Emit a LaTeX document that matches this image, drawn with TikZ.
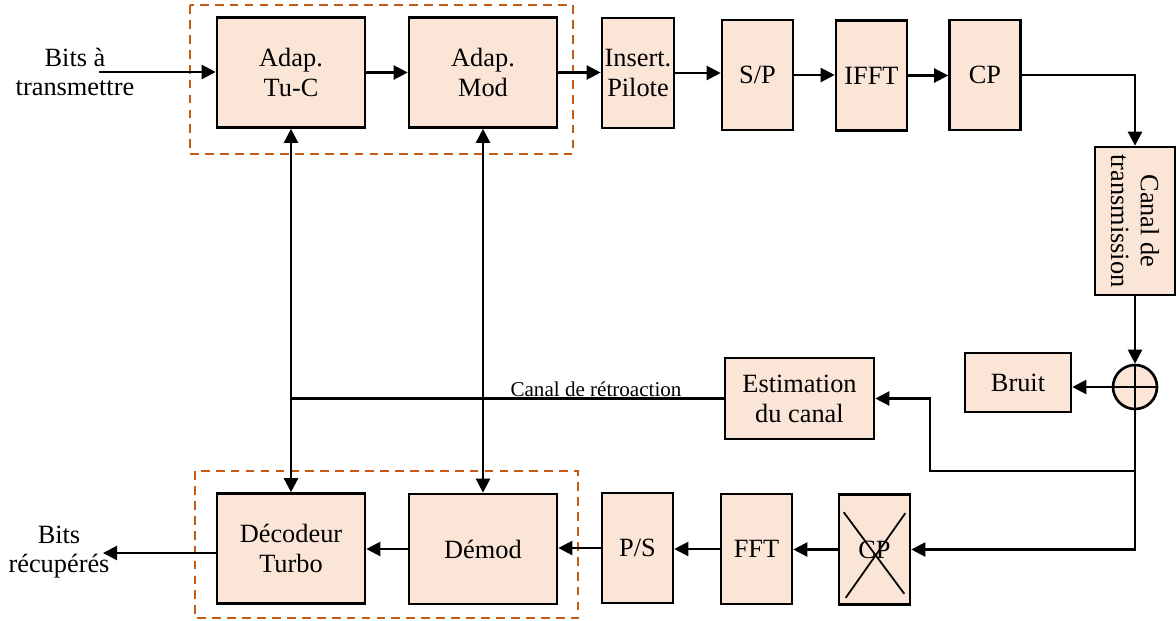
\documentclass[tikz,border=0pt]{standalone}
\usepackage{fontspec}
\setmainfont{Liberation Serif}
\usetikzlibrary{arrows.meta}
\definecolor{peche}{HTML}{FBE5D6}
\definecolor{cadre}{HTML}{C55A11}
\tikzset{
every picture/.style={line width=1.3pt, >={Triangle[length=8pt,width=8pt]}},
bloc/.style={draw, line width=1.5pt, fill=peche, align=center, inner sep=1pt,
  font=\fontsize{15}{17}\selectfont},
large/.style={minimum width=2.96cm, minimum height=2.2cm},
etroit/.style={minimum width=1.42cm, minimum height=2.2cm},
groupe/.style={draw=cadre, dash pattern=on 5pt off 3.5pt, line width=1.2pt},
legende/.style={align=center, font=\fontsize{15}{17}\selectfont}
}

\begin{document}
\begin{tikzpicture}[x=0.02cm, y=-0.02cm]
    \useasboundingbox (0,0) rectangle (1176,620);
    \draw[groupe] (190,5) rectangle (573,154);
    \draw[groupe] (195,471) rectangle (578,618);

    % emetteur
    \node[bloc, large] (tuc) at (291,72.5) {Adap.\\Tu-C};
    \node[bloc, large] (mod) at (483,72.5) {Adap.\\Mod};
    \node[bloc, etroit, minimum width=1.44cm] (ins) at (638,73) {Insert.\\Pilote};
    \node[bloc, etroit] (sp) at (757.5,75) {S/P};
    \node[bloc, etroit] (ifft) at (871.5,75.5) {IFFT};
    \node[bloc, etroit] (cp) at (985,75) {CP};
    \node[bloc, rotate=-90, minimum width=2.96cm, minimum height=1.6cm] (canal) at (1135,221) {Canal de\\transmission};
    \node[draw, circle, line width=1.5pt, fill=peche, minimum size=0.88cm, inner sep=0pt] (sum) at (1135,387) {};
    \node[bloc, minimum width=2.12cm, minimum height=1.18cm] (bruit) at (1018,382.5) {Bruit};
    \node[bloc, minimum width=2.98cm, minimum height=1.62cm] (est) at (799.5,398.5) {Estimation\\du canal};

    % recepteur
    \node[bloc, etroit] (cpr) at (874.5,549.5) {CP};
    \node[bloc, etroit] (fft) at (756.5,549) {FFT};
    \node[bloc, etroit] (ps) at (637.5,548) {P/S};
    \node[bloc, large] (demod) at (483,549) {Démod};
    \node[bloc, large] (dec) at (291,548.5) {Décodeur\\Turbo};

    \node[legende] (bitsin) at (75,72) {Bits à\\transmettre};
    \node[legende] (bitsout) at (59,552) {Bits\\récupérés};
    \node[font=\fontsize{12}{14}\selectfont] (retour) at (596,389) {Canal de rétroaction};
    \coordinate (entree) at (99,72);
    \coordinate (sortie) at (103,553);

    \draw[->] (entree) -- (tuc.west |- entree);
    \draw[->] (tuc.east) -- (mod.west);
    \draw[->] (mod.east) -- (ins.west |- mod.east);
    \draw[->] (ins.east) -- (ins.east -| sp.west);
    \draw[->] (sp.east) -- (sp.east -| ifft.west);
    \draw[->] (ifft.east) -- (ifft.east -| cp.west);
    \draw[->] (cp.east) -| (canal.west);
    \draw[->] (canal.east) -- (sum.north);
    \draw (sum.north) -- (sum.south) (sum.west) -- (sum.east);
    \draw[->] (sum.west) -- (sum.west -| bruit.east);
    \draw[->] (sum.south) |- (930,471) |- (est.east);
    \draw[->] (sum.south) |- (cpr.east);
    \draw[->] (cpr.west) -- (cpr.west -| fft.east);
    \draw[->] (fft.west) -- (fft.west -| ps.east);
    \draw[->] (ps.west) -- (ps.west -| demod.east);
    \draw[->] (demod.west) -- (demod.west -| dec.east);
    \draw[->] (dec.west |- sortie) -- (sortie);
    \draw[<->] (tuc.south) -- (dec.north);
    \draw[<->] (mod.south) -- (demod.north);
    \draw (est.west) -- (est.west -| tuc.south);
    \draw[line width=1pt] ([shift={(6,19)}]cpr.north west) -- ([shift={(-7,-12)}]cpr.south east);
    \draw[line width=1pt] ([shift={(-6,20)}]cpr.north east) -- ([shift={(8,-8)}]cpr.south west);
\end{tikzpicture}
\end{document}
